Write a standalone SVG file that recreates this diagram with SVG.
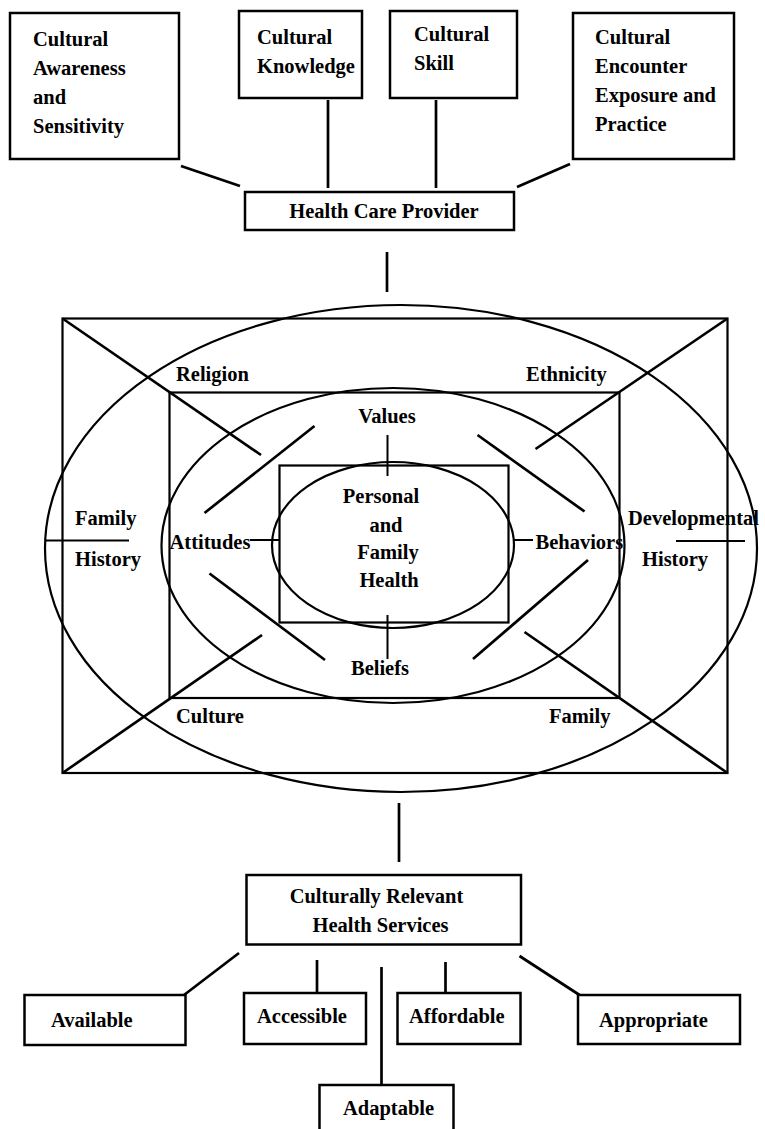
<svg xmlns="http://www.w3.org/2000/svg" width="765" height="1129" viewBox="0 0 765 1129">
<style>
.box{fill:#fff;stroke:#000;stroke-width:2.5}
.shape{fill:none;stroke:#000;stroke-width:2.2}
.ln{stroke:#000;stroke-width:2.7;fill:none}
.ln2{stroke:#000;stroke-width:2;fill:none}
text{font-family:"Liberation Serif","Times New Roman",serif;font-weight:bold;font-size:20.5px;fill:#000}
</style>
<rect width="765" height="1129" fill="#fff"/>
<g id="connectors">
<line class="ln" x1="181" y1="166" x2="240" y2="186"/>
<line class="ln" x1="328" y1="100" x2="328" y2="188"/>
<line class="ln" x1="436" y1="100" x2="436" y2="188"/>
<line class="ln" x1="570" y1="164" x2="517" y2="187"/>
<line class="ln" x1="387" y1="252" x2="387" y2="292"/>
<line class="ln" x1="399" y1="803" x2="399" y2="862"/>
<line class="ln" x1="239" y1="953" x2="184" y2="995"/>
<line class="ln" x1="317" y1="960" x2="317" y2="993"/>
<line class="ln" x1="381.5" y1="967" x2="381.5" y2="1085"/>
<line class="ln" x1="445.5" y1="962" x2="445.5" y2="993"/>
<line class="ln" x1="519.5" y1="956" x2="579.5" y2="995"/>
</g>
<g id="node-awareness">
<rect class="box" x="10" y="13" width="169" height="146"/>
<text x="33" y="46">Cultural</text>
<text x="33" y="75">Awareness</text>
<text x="33" y="104">and</text>
<text x="33" y="133">Sensitivity</text>
</g>
<g id="node-knowledge">
<rect class="box" x="239" y="11" width="123" height="87"/>
<text x="257" y="44">Cultural</text>
<text x="257" y="73">Knowledge</text>
</g>
<g id="node-skill">
<rect class="box" x="390" y="11" width="127" height="87"/>
<text x="414" y="41">Cultural</text>
<text x="414" y="70">Skill</text>
</g>
<g id="node-encounter">
<rect class="box" x="573" y="13" width="161" height="146"/>
<text x="595" y="44">Cultural</text>
<text x="595" y="73">Encounter</text>
<text x="595" y="102">Exposure and</text>
<text x="595" y="131">Practice</text>
</g>
<g id="node-provider">
<rect class="box" x="245" y="192" width="269" height="38"/>
<text x="384" y="218" text-anchor="middle">Health Care Provider</text>
</g>
<g id="node-model">
<rect class="shape" x="62.5" y="318.5" width="665" height="454.5"/>
<ellipse class="shape" cx="401" cy="548.5" rx="356" ry="243.5"/>
<rect class="shape" x="169.5" y="392.5" width="450" height="305.5"/>
<ellipse class="shape" cx="393" cy="545.5" rx="231.5" ry="157.5"/>
<rect class="shape" x="279.5" y="465.5" width="229" height="157"/>
<ellipse class="shape" cx="393" cy="545" rx="121" ry="83"/>
<line class="ln" x1="62.5" y1="318.5" x2="261" y2="455"/>
<line class="ln" x1="727.5" y1="318.5" x2="535.5" y2="449"/>
<line class="ln" x1="62.5" y1="773" x2="262" y2="635"/>
<line class="ln" x1="727.5" y1="773" x2="524.5" y2="632"/>
<line class="ln" x1="314.5" y1="426" x2="204.5" y2="513"/>
<line class="ln" x1="477.5" y1="435" x2="584.5" y2="511.5"/>
<line class="ln" x1="209.5" y1="573.5" x2="325" y2="660"/>
<line class="ln" x1="588" y1="560" x2="473" y2="659"/>
<line class="ln2" x1="387.5" y1="435" x2="387.5" y2="476"/>
<line class="ln2" x1="387.5" y1="615" x2="387.5" y2="659"/>
<line class="ln2" x1="250" y1="540" x2="279" y2="540"/>
<line class="ln2" x1="513" y1="540" x2="533" y2="540"/>
<line class="ln2" x1="46" y1="540.5" x2="129" y2="540.5"/>
<line class="ln2" x1="676" y1="541" x2="745" y2="541"/>
<text x="176" y="381">Religion</text>
<text x="526" y="381">Ethnicity</text>
<text x="387" y="423" text-anchor="middle">Values</text>
<text x="381" y="503" text-anchor="middle">Personal</text>
<text x="386" y="532" text-anchor="middle">and</text>
<text x="388" y="559" text-anchor="middle">Family</text>
<text x="389" y="587" text-anchor="middle">Health</text>
<text x="380" y="675" text-anchor="middle">Beliefs</text>
<text x="75" y="525">Family</text>
<text x="75" y="566">History</text>
<text x="169.5" y="549">Attitudes</text>
<text x="535.5" y="549">Behaviors</text>
<text x="628" y="525">Developmental</text>
<text x="642" y="566">History</text>
<text x="176" y="723">Culture</text>
<text x="549" y="723">Family</text>
</g>
<g id="node-services">
<rect class="box" x="246.5" y="875" width="274.5" height="69.5"/>
<text x="376.5" y="903" text-anchor="middle">Culturally Relevant</text>
<text x="380.5" y="932" text-anchor="middle">Health Services</text>
</g>
<g id="node-available">
<rect class="box" x="24.5" y="995" width="161" height="50"/>
<text x="51" y="1027">Available</text>
</g>
<g id="node-accessible">
<rect class="box" x="244" y="993" width="122" height="51"/>
<text x="257" y="1023">Accessible</text>
</g>
<g id="node-adaptable">
<rect class="box" x="319.5" y="1085" width="134" height="50"/>
<text x="343" y="1115">Adaptable</text>
</g>
<g id="node-affordable">
<rect class="box" x="397.5" y="993" width="123" height="51"/>
<text x="409" y="1023">Affordable</text>
</g>
<g id="node-appropriate">
<rect class="box" x="578" y="995" width="162" height="49"/>
<text x="599" y="1027">Appropriate</text>
</g>
</svg>
